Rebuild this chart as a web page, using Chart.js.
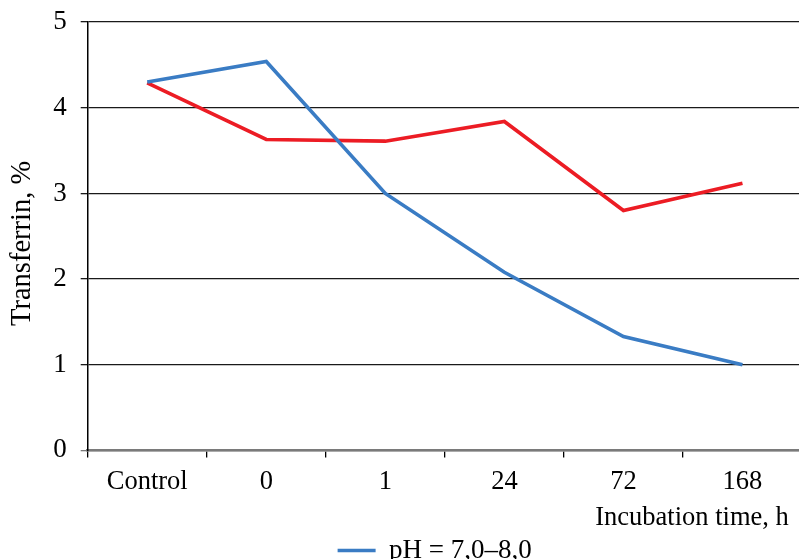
<!DOCTYPE html>
<html>
<head>
<meta charset="utf-8">
<script src="https://cdn.jsdelivr.net/npm/chart.js@4.4.1/dist/chart.umd.min.js"></script>
<style>
  html, body { margin: 0; padding: 0; background: #fff; overflow: hidden; }
  #wrap { width: 810px; height: 600px; }
</style>
</head>
<body>
<div id="wrap"><canvas id="chart" width="810" height="600"></canvas></div>
<script>
// data
var categories = ['Control', '0', '1', '24', '72', '168'];
var bluePH78 = [4.30, 4.54, 3.00, 2.08, 1.33, 1.00];
var redSeries = [4.29, 3.63, 3.61, 3.84, 2.80, 3.12];
var yTicks = [0, 1, 2, 3, 4, 5];

var serif = 'Liberation Serif';
var NB = '\u00a0';

new Chart(document.getElementById('chart'), {
    type: 'line',
    data: {
        labels: categories,
        datasets: [
            {
                label: 'pH = 7,0\u20138,0' + NB + NB + NB,
                data: bluePH78,
                borderColor: '#3a7cc4',
                backgroundColor: '#3a7cc4',
                borderWidth: 3.6,
                pointRadius: 0,
                tension: 0
            },
            {
                label: '',
                data: redSeries,
                borderColor: '#ec1c24',
                backgroundColor: '#ec1c24',
                borderWidth: 3.6,
                pointRadius: 0,
                tension: 0
            }
        ]
    },
    options: {
        responsive: false,
        animation: false,
        devicePixelRatio: 1,
        layout: { padding: { top: 7, right: 8, bottom: 26, left: 0 } },
        plugins: {
            tooltip: { enabled: false },
            legend: {
                position: 'bottom',
                fullSize: false,
                labels: {
                    color: '#000',
                    font: { family: serif, size: 27 },
                    usePointStyle: true,
                    pointStyle: 'line',
                    pointStyleWidth: 38,
                    boxWidth: 38,
                    padding: 3,
                    filter: function(item) { return item.datasetIndex === 0; }
                }
            }
        },
        scales: {
            x: {
                offset: true,
                grid: {
                    offset: true,
                    drawOnChartArea: false,
                    drawTicks: true,
                    tickLength: 7,
                    color: '#000',
                    lineWidth: 1.3
                },
                border: { color: '#7a7a7a', width: 2.5 },
                ticks: {
                    color: '#000',
                    padding: 9,
                    maxRotation: 0,
                    font: { family: serif, size: 26.5 }
                },
                title: {
                    display: true,
                    text: 'Incubation time, h' + NB + NB,
                    align: 'end',
                    color: '#000',
                    padding: { top: -5, bottom: 0 },
                    font: { family: serif, size: 26.5 }
                }
            },
            y: {
                min: 0,
                max: 5,
                afterBuildTicks: function(scale) {
                    scale.ticks = yTicks.map(function(v) { return { value: v }; });
                },
                grid: {
                    color: function(ctx) {
                        return ctx.tick && ctx.tick.value === 0 ? '#7a7a7a' : '#1a1a1a';
                    },
                    lineWidth: 1.3,
                    tickLength: 7
                },
                border: { color: '#000', width: 1.5 },
                ticks: {
                    color: '#000',
                    padding: 14,
                    font: { family: serif, size: 27, lineHeight: 0.6 }
                },
                title: {
                    display: true,
                    text: 'Transferrin, %' + NB + NB,
                    color: '#000',
                    padding: { top: 5, bottom: 0 },
                    font: { family: serif, size: 28.5 }
                }
            }
        }
    }
});
</script>
</body>
</html>
